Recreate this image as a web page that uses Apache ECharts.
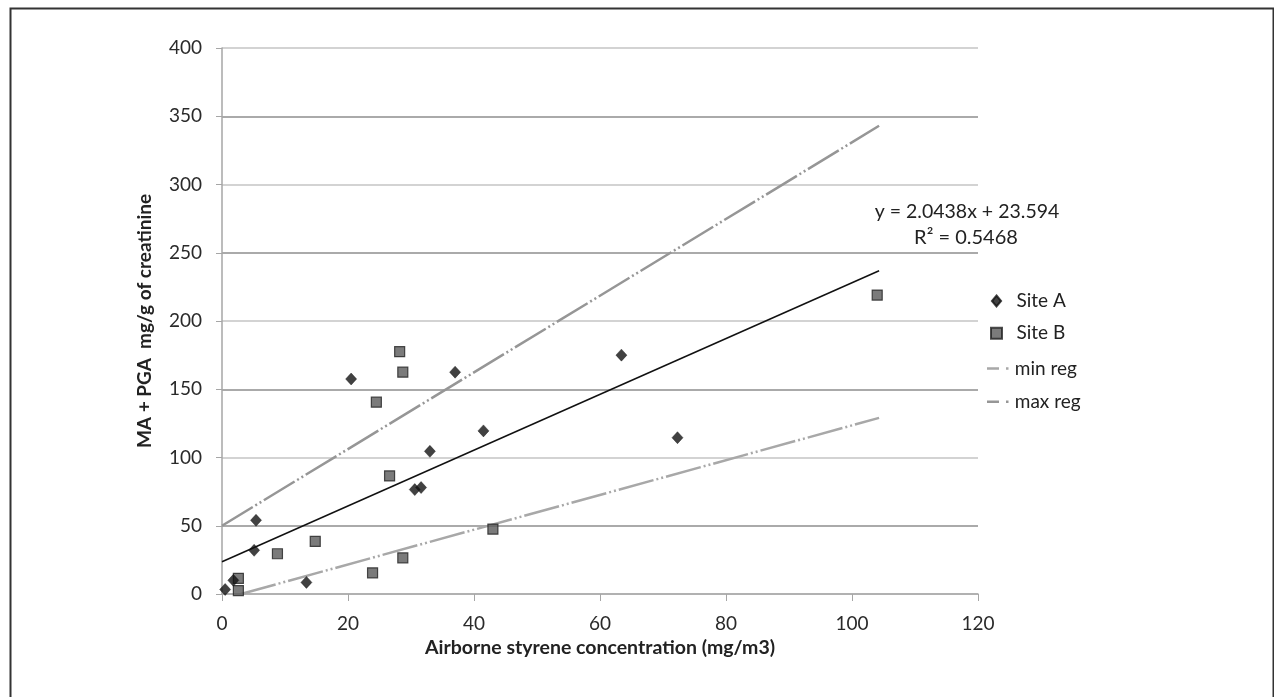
<!DOCTYPE html>
<html>
<head>
<meta charset="utf-8">
<script src="https://cdn.jsdelivr.net/npm/echarts@6/dist/echarts.min.js"></script>
<style>
html,body{margin:0;padding:0;background:#fff;}
#chart{width:1274px;height:697px;}
</style>
</head>
<body>
<div id="chart"></div>
<script>
// ---- data ----
const siteA = [[0.5,3.3],[1.8,10],[5.1,32],[5.4,54],[13.4,8.5],[20.5,157.5],[30.6,76.5],[31.6,78],[33,104.5],[37,162.5],[41.5,119.5],[63.4,175],[72.3,114.5]];
const siteB = [[2.6,2.5],[2.6,11.5],[8.8,29.5],[14.8,38.5],[23.9,15.5],[24.5,140.5],[26.6,86.5],[28.2,177.5],[28.7,162.5],[28.7,26.5],[43,47.5],[104,219]];
const trendLine = [[0,23.6],[104.3,236.8]];
const minReg = [[3,0],[104.3,129]];
const maxReg = [[0,50],[104.3,343]];
const equationText = ['y = 2.0438x + 23.594', 'R\u00B2 = 0.5468'];
const xTitle = 'Airborne styrene concentration (mg/m3)';
const yTitle = 'MA + PGA  mg/g of creatinine';

const FONT = 'Lato, "Open Sans", sans-serif';
const ICON_DIAMOND = 'path://M5,0L10,6L5,12L0,6Z';
const ICON_SQUARE = 'path://M0,0h10v10h-10z';
const ICON_DASHDOT = 'path://M0,0h12v2.5h-12z M19,0h2.5v2.5h-2.5z';

const chart = echarts.init(document.getElementById('chart'), null, {renderer:'canvas'});
chart.setOption({
  backgroundColor:'#ffffff',
  animation:false,
  grid:{left:222, top:48, width:756, height:546, containLabel:false},
  xAxis:{
    type:'value', min:0, max:120, interval:20,
    name:xTitle, nameLocation:'middle', nameGap:42,
    nameTextStyle:{fontFamily:FONT, fontSize:19.5, fontWeight:'bold', color:'#222'},
    axisLine:{show:true, onZero:false, lineStyle:{color:'#a6a6a6', width:1.5}},
    axisTick:{show:true, length:7, lineStyle:{color:'#a6a6a6'}},
    axisLabel:{fontFamily:FONT, fontSize:19, color:'#2a2a2a', margin:20},
    splitLine:{show:false}
  },
  yAxis:{
    type:'value', min:0, max:400, interval:50,
    name:yTitle, nameLocation:'middle', nameGap:68, nameRotate:90,
    nameTextStyle:{fontFamily:FONT, fontSize:19, fontWeight:'bold', color:'#222'},
    axisLine:{show:true, lineStyle:{color:'#a6a6a6', width:1.5}},
    axisTick:{show:true, length:6, lineStyle:{color:'#a6a6a6'}},
    axisLabel:{fontFamily:FONT, fontSize:19, color:'#2a2a2a', margin:20},
    splitLine:{show:true, lineStyle:{color:['#c4c4c4','#8e8e8e'], width:1.5}}
  },
  legend:[
    {orient:'vertical', left:985, top:286.5, itemGap:13.3, itemWidth:30, itemHeight:11,
     selectedMode:false,
     textStyle:{fontFamily:FONT, fontSize:19, color:'#222'},
     data:[{name:'Site A', icon:ICON_DIAMOND},{name:'Site B', icon:ICON_SQUARE}]},
    {orient:'vertical', left:982, top:354, itemGap:14.3, itemWidth:24, itemHeight:2.5,
     selectedMode:false,
     textStyle:{fontFamily:FONT, fontSize:19, color:'#222'},
     data:[{name:'min reg', icon:ICON_DASHDOT},{name:'max reg', icon:ICON_DASHDOT}]}
  ],
  series:[
    {name:'trend', type:'line', data:trendLine, symbol:'none', silent:true,
     lineStyle:{color:'#111', width:1.5}, z:3},
    {name:'min reg', type:'line', data:minReg, symbol:'none',
     itemStyle:{color:'#a8a8a8'},
     lineStyle:{color:'#a8a8a8', width:2.5, type:[36,3,2,3,2,3]}, z:2},
    {name:'max reg', type:'line', data:maxReg, symbol:'none',
     itemStyle:{color:'#969696'},
     lineStyle:{color:'#969696', width:2.5, type:[36,3,2,3,2,3]}, z:2},
    {name:'Site A', type:'scatter', data:siteA, symbol:'diamond', symbolSize:[11,12],
     itemStyle:{color:'#111', borderColor:'#111', borderWidth:0.5}, z:5},
    {name:'Site B', type:'scatter', data:siteB, symbol:'rect', symbolSize:10,
     itemStyle:{color:'#5a5a5a', borderColor:'#222', borderWidth:1.2}, z:4}
  ],
  graphic:[
    {type:'rect', left:8, top:6, shape:{width:1263, height:700},
     style:{fill:'none', stroke:'#333', lineWidth:2}, silent:true, z:-1},
    {type:'text', x:967, y:212, style:{text:equationText[0], font:'19.5px '+FONT, fill:'#222', textAlign:'center', textVerticalAlign:'middle'}},
    {type:'text', x:966, y:238, style:{text:equationText[1], font:'20px '+FONT, fill:'#222', textAlign:'center', textVerticalAlign:'middle'}}
  ]
});
</script>
</body>
</html>
